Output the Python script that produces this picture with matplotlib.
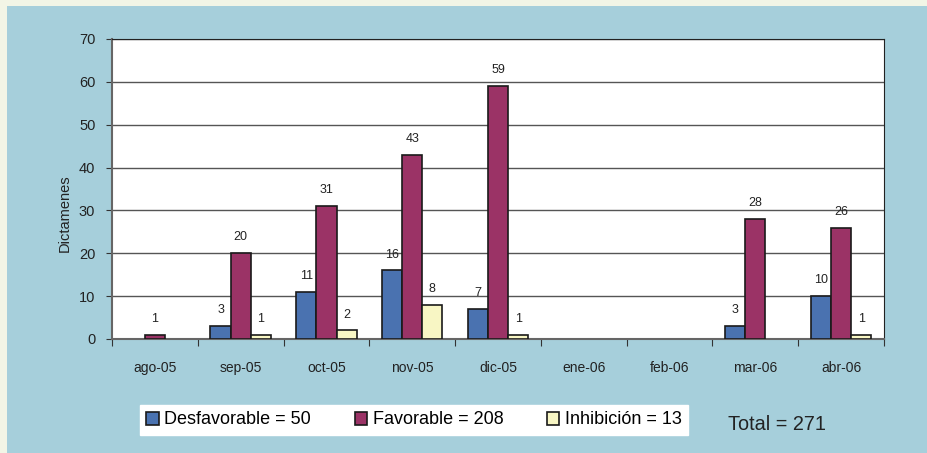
import numpy as np
import matplotlib
matplotlib.use("Agg")
import matplotlib.pyplot as plt
from matplotlib.patches import Patch

plt.rcParams["font.family"] = ["Liberation Sans", "DejaVu Sans"]

meses = ["ago-05", "sep-05", "oct-05", "nov-05", "dic-05", "ene-06", "feb-06", "mar-06", "abr-06"]
desfavorable = [0, 3, 11, 16, 7, 0, 0, 3, 10]
favorable = [1, 20, 31, 43, 59, 0, 0, 28, 26]
inhibicion = [0, 1, 2, 8, 1, 0, 0, 0, 1]

series = [
    ("Desfavorable", desfavorable, "#4a72b0"),
    ("Favorable", favorable, "#9b3366"),
    ("Inhibición", inhibicion, "#f8f6c4"),
]

fig = plt.figure(figsize=(9.28, 4.53), dpi=100)
fig.patch.set_facecolor("#f2f5e6")

# blue panel behind everything, leaving a thin cream strip on the left and top
fondo = fig.add_axes([7 / 928, 0, 1 - 7 / 928, 1 - 6 / 453], zorder=-1)
fondo.set_facecolor("#a6cfdb")
fondo.set_xticks([])
fondo.set_yticks([])
for s in fondo.spines.values():
    s.set_visible(False)

ax = fig.add_axes([112 / 928, 1 - 339 / 453, 772 / 928, 300 / 453])
ax.set_facecolor("white")

x = np.arange(len(meses))
w = 0.235
for i, (nombre, vals, color) in enumerate(series):
    pos = x + (i - 1) * w
    for xp, v in zip(pos, vals):
        if v == 0:
            continue
        ax.bar(xp, v, width=w, color=color, edgecolor="#1a1a1a", linewidth=1.2, zorder=3)
        ax.text(xp, v + 2.3, str(v), ha="center", va="bottom", fontsize=9, color="#222222")

ax.set_xlim(-0.5, len(meses) - 0.5)
ax.set_ylim(0, 70)
ax.set_yticks(range(0, 71, 10))
ax.tick_params(axis="y", labelsize=10.5, length=4, pad=8, color="#333333", labelcolor="#222222")
ax.yaxis.grid(True, color="#555555", linewidth=1)
ax.set_axisbelow(True)

ax.set_xticks(np.arange(-0.5, len(meses), 1))
ax.set_xticklabels([])
ax.tick_params(axis="x", which="major", length=5, color="#333333")
ax.set_xticks(x, minor=True)
ax.set_xticklabels(meses, minor=True)
ax.tick_params(axis="x", which="minor", length=0, pad=16, labelsize=10, labelcolor="#222222")

for s in ["top", "right"]:
    ax.spines[s].set_color("#222222")
for s in ["left", "bottom"]:
    ax.spines[s].set_color("#666666")
    ax.spines[s].set_linewidth(1.5)

ax.set_ylabel("Dictamenes", fontsize=10.5, color="#222222", va="center")
ax.yaxis.set_label_coords(-0.061, 0.42)

handles = [Patch(facecolor=c, edgecolor="#1a1a1a", linewidth=1.2,
                 label=f"{n} = {sum(v)}") for n, v, c in series]
leg = fig.legend(handles=handles, loc="center", bbox_to_anchor=(414 / 928, 1 - 420 / 453),
                 ncol=3, fontsize=13, frameon=True, fancybox=False,
                 handlelength=0.7, handleheight=0.7, handletextpad=0.3, columnspacing=2.4,
                 borderpad=0.35)
leg.get_frame().set_facecolor("white")
leg.get_frame().set_edgecolor("white")
leg.get_frame().set_alpha(1)

total = sum(desfavorable) + sum(favorable) + sum(inhibicion)
fig.text(728 / 928, 1 - 425 / 453, f"Total = {total}", fontsize=14.3, color="#222222",
         ha="left", va="center")

fig.savefig("out.png", dpi=100, facecolor=fig.get_facecolor())
